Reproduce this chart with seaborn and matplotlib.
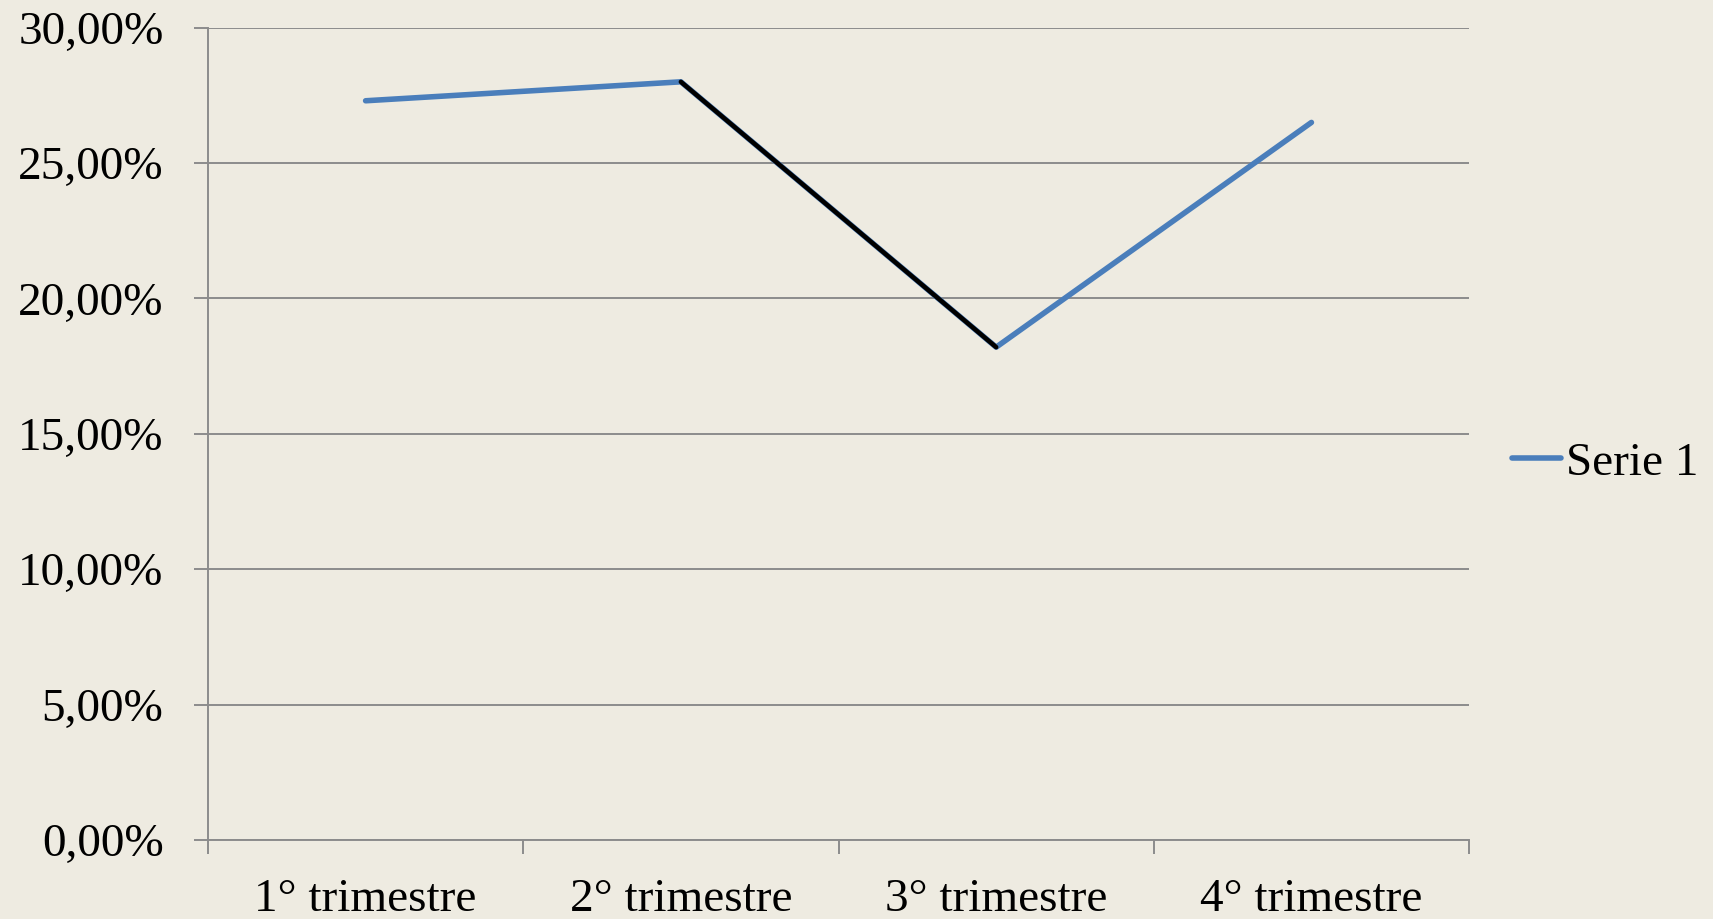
import matplotlib
matplotlib.use("Agg")
import matplotlib.pyplot as plt
import seaborn as sns
import pandas as pd
from matplotlib.ticker import FixedLocator, FuncFormatter

# values
trimestri = ["1° trimestre", "2° trimestre", "3° trimestre", "4° trimestre"]
serie_1 = [27.3, 28.0, 18.2, 26.5]
# segment drawn in black (2° -> 3° trimestre)
evidenziato = [1, 2]

df = pd.DataFrame({"trimestre": trimestri, "valore": serie_1})

sns.set_style("white")
plt.rcParams["font.family"] = ["Liberation Serif", "DejaVu Serif"]
plt.rcParams["text.color"] = "black"
plt.rcParams["xtick.labelcolor"] = "black"
plt.rcParams["ytick.labelcolor"] = "black"

bg = "#EEEBE1"
grid_col = "#8C8C8C"

fig = plt.figure(figsize=(17.13, 9.19), dpi=100, facecolor=bg)
ax = fig.add_axes([0.1214, 0.0860, 0.8576 - 0.1214, 0.9699 - 0.0860])
ax.set_facecolor(bg)

sns.lineplot(data=df, x="trimestre", y="valore", color="#4A7EBB", linewidth=4.0,
             solid_capstyle="round", label="Serie 1", ax=ax)
sns.lineplot(data=df.iloc[evidenziato], x="trimestre", y="valore", color="black",
             linewidth=3.3, legend=False, ax=ax)

ax.set_ylim(0, 30)
ax.set_xlim(-0.5, 3.5)
ax.set_yticks(range(0, 31, 5))
ax.yaxis.set_major_formatter(FuncFormatter(lambda v, p: f"{v:.2f}%".replace(".", ",")))
ax.set_xticks(range(4))
ax.set_xticklabels(trimestri)
ax.xaxis.set_minor_locator(FixedLocator([-0.5, 0.5, 1.5, 2.5, 3.5]))
ax.set_xlabel("")
ax.set_ylabel("")

ax.yaxis.grid(True, color=grid_col, linewidth=1.4)
ax.set_axisbelow(True)
for s in ["top", "right"]:
    ax.spines[s].set_visible(False)
for s in ["left", "bottom"]:
    ax.spines[s].set_color(grid_col)
    ax.spines[s].set_linewidth(1.4)

ax.tick_params(axis="y", which="major", length=10, width=1.4, color=grid_col,
               labelsize=34, pad=22, left=True, labelcolor="black")
ax.tick_params(axis="x", which="major", length=0, labelsize=34, pad=28, labelcolor="black")
ax.tick_params(axis="x", which="minor", length=10, width=1.4, color=grid_col, bottom=True)

leg = ax.legend(loc="center left", bbox_to_anchor=(0.8824, 0.4962), bbox_transform=fig.transFigure,
                frameon=False, fontsize=34, handlelength=1.05, handletextpad=0.1, borderpad=0,
                borderaxespad=0)
for t in leg.get_texts():
    t.set_color("black")

fig.savefig("out.png", dpi=100, facecolor=bg)
